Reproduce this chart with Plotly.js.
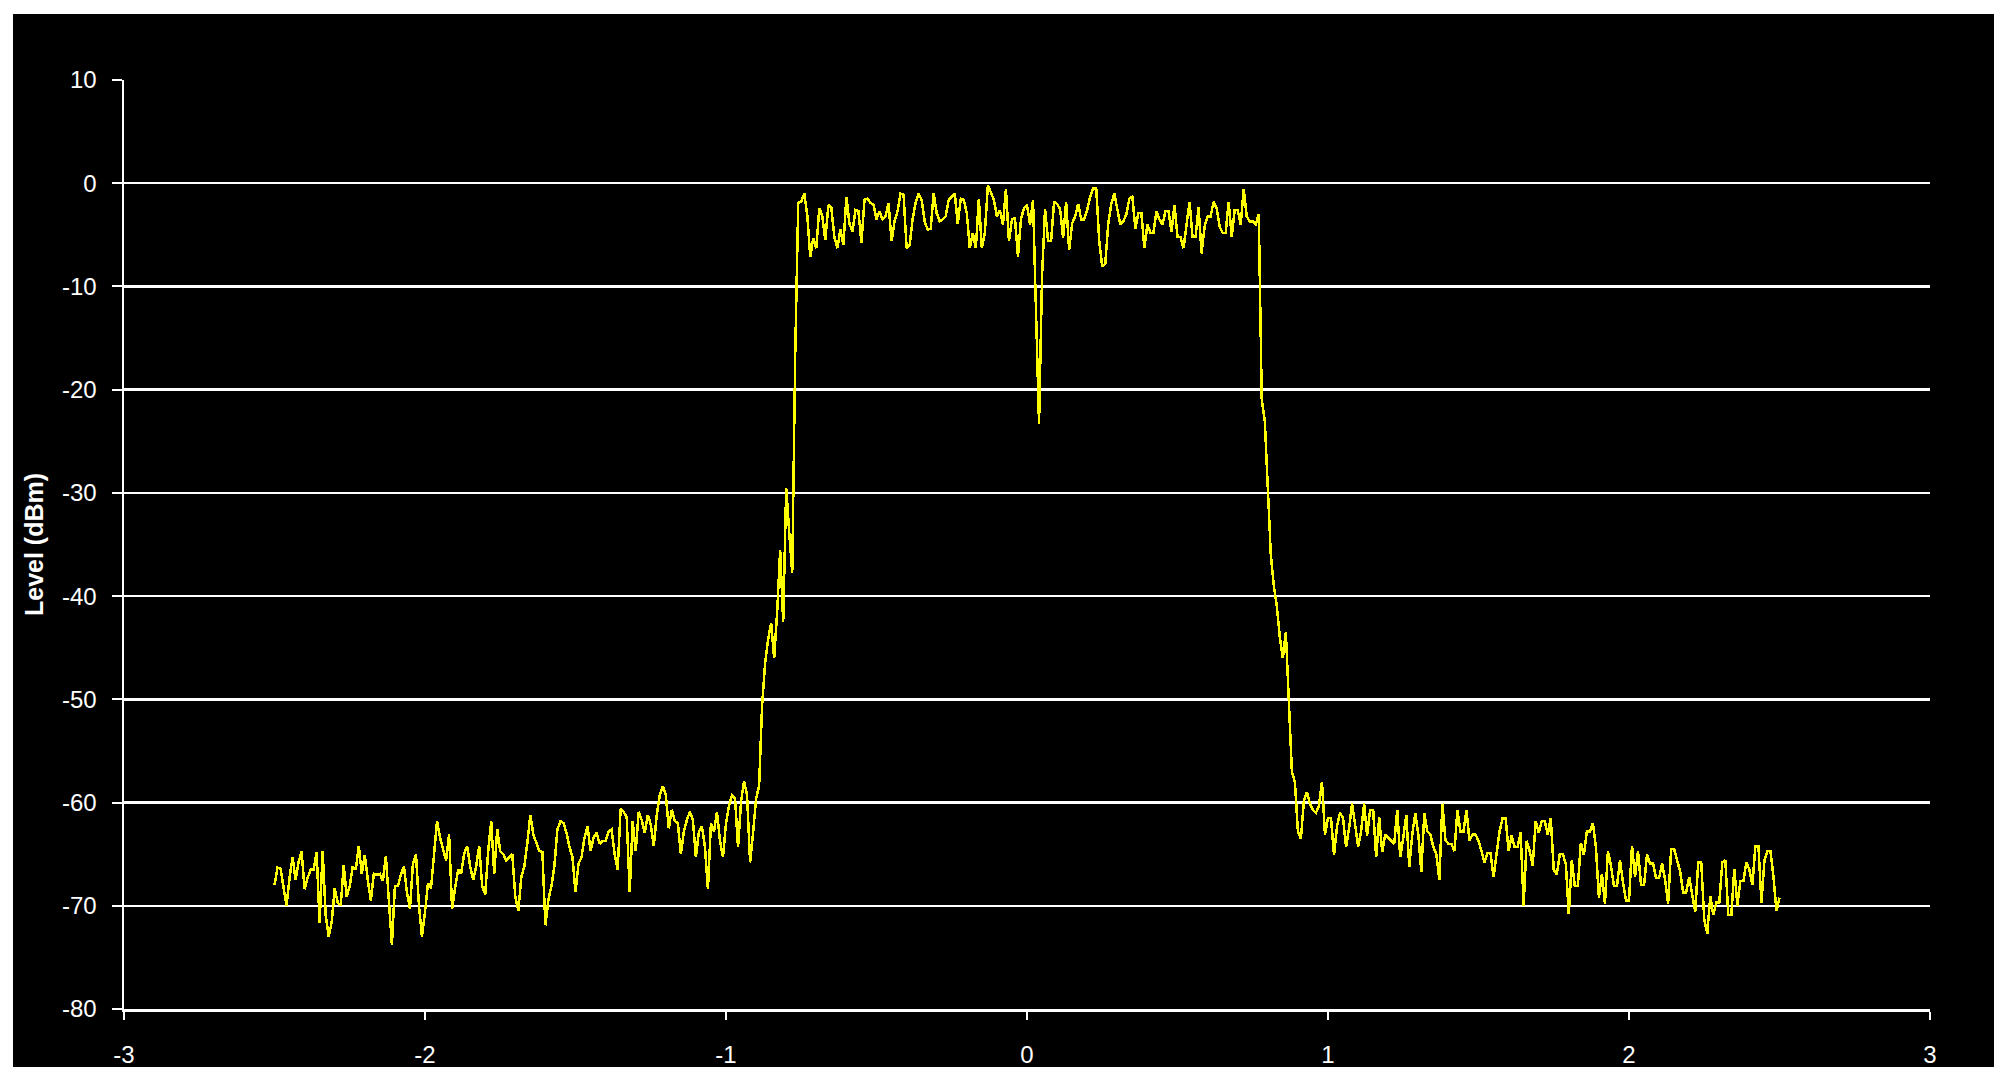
<!DOCTYPE html>
<html>
<head>
<meta charset="utf-8">
<script src="https://cdn.plot.ly/plotly-3.0.1.min.js"></script>
<style>
  html, body { margin: 0; padding: 0; background: #ffffff; width: 2015px; height: 1087px; overflow: hidden; }
  #chart { position: absolute; left: 13px; top: 14px; width: 1981px; height: 1053px; }
  #chart .scatterlayer path.js-line { shape-rendering: crispEdges; }
</style>
</head>
<body>
<div id="chart"></div>
<script>
// Frequency axis: first sample and spacing of the sweep (sample points every 0.01)
const freqStart = -2.5;
const freqStep = 0.01;

// Level readings (dBm) per sweep segment
// lower noise floor, -2.50 .. -0.89
const floorLeft = [
  -68, -66.3, -66.4, -68.1, -70, -67.3, -65.3, -67.5, -65.8, -64.7,
  -68.4, -67.3, -66.5, -66.5, -64.8, -71.7, -64.7, -70.9, -73, -71.6,
  -68.3, -69.7, -70, -66.1, -69.1, -68.1, -66.2, -66.5, -64.2, -66.9,
  -65.1, -67.5, -69.5, -66.9, -67, -66.9, -67.6, -65.2, -69.7, -73.8,
  -68.1, -68.1, -67, -66.2, -68.7, -70.3, -65.9, -65, -70, -73,
  -70.6, -67.8, -68.3, -65.3, -61.8, -63.4, -64.5, -65.6, -63.1, -70.3,
  -68.3, -66.5, -66.9, -65, -64.2, -66.2, -67.5, -66.2, -64.2, -68.1,
  -68.9, -64.7, -61.8, -66.9, -62.6, -64.7, -65, -65.6, -65.3, -65,
  -69.1, -70.5, -67.2, -66.2, -63.9, -61.2, -63.1, -63.9, -64.7, -64.8,
  -71.9, -69.4, -68.1, -66.1, -62.6, -61.8, -62, -62.9, -64.3, -65.3,
  -68.7, -65.9, -65.3, -63.4, -62.3, -64.7, -63.4, -62.9, -64, -63.7,
  -63.7, -62.8, -62.6, -65, -66.5, -60.6, -60.9, -61.4, -68.7, -61.8,
  -64.7, -60.9, -61.7, -62.9, -61.2, -62.1, -64.2, -61.2, -59.3, -58.4,
  -59.3, -62.5, -60.7, -61.8, -62, -65, -62.8, -61.7, -60.9, -61.7,
  -65.3, -62.8, -62.3, -64.3, -68.4, -62, -62.8, -60.9, -63.7, -65.3,
  -62, -60.3, -59.3, -59.6, -64.3, -59.9, -57.9, -59.3, -65.8, -62.9,
  -59.6, -58.4
];
// lower skirt, -0.88 .. -0.77
const riseLeft = [-50.5, -46.5, -44.2, -42.6, -46, -41.5, -35.5, -42.5, -29.5, -33.8, -37.8, -16.5];
// occupied band, -0.76 .. 0.77
const passband = [
  -1.9, -1.8, -1.0, -3.1, -7.1, -5.3, -6.3, -2.4, -3.2, -5.5,
  -2.1, -2.4, -5.2, -6.3, -4.5, -6.0, -1.3, -3.9, -4.7, -2.6,
  -2.7, -5.8, -1.6, -1.5, -1.9, -2.1, -3.5, -2.7, -3.5, -3.2,
  -1.9, -5.6, -3.7, -2.7, -1.0, -1.1, -6.3, -6.0, -3.5, -1.9,
  -1.0, -1.6, -3.7, -4.5, -4.4, -1.0, -2.9, -3.7, -3.5, -3.2,
  -1.6, -1.3, -1.0, -3.9, -1.5, -1.6, -2.9, -6.3, -4.8, -6.3,
  -1.5, -6.3, -4.8, -0.2, -1.0, -1.6, -3.2, -2.6, -4.0, -0.6,
  -5.6, -3.5, -3.4, -7.1, -3.5, -2.4, -2.1, -4.0, -1.6, -12.9,
  -23.3, -9.0, -2.5, -5.6, -5.6, -1.8, -2.0, -2.5, -5.3, -1.8,
  -6.5, -3.9, -3.2, -2.0, -3.5, -3.5, -2.6, -1.3, -0.5, -0.5,
  -5.6, -8.1, -7.8, -3.9, -2.0, -1.0, -2.6, -4.0, -3.7, -3.0,
  -1.5, -1.3, -4.4, -2.9, -2.9, -6.3, -4.0, -4.8, -4.8, -2.7,
  -3.5, -4.0, -2.7, -2.7, -4.7, -2.1, -5.2, -5.2, -6.3, -4.0,
  -1.8, -5.2, -5.2, -2.3, -6.8, -4.2, -3.2, -3.2, -1.8, -2.4,
  -4.2, -4.8, -4.8, -1.8, -5.2, -2.6, -2.6, -4.0, -0.6, -3.2,
  -3.7, -3.7, -4.0, -3.0
];
// upper skirt, 0.78 .. 0.88
const fallRight = [-21, -23, -29, -36, -39, -41, -44, -46, -43.5, -50, -57];
// upper noise floor, 0.89 .. 2.50
const floorRight = [
  -58, -62.8, -63.5, -59.8, -59, -60.1, -60.7, -61, -60.3, -58,
  -63.1, -61.5, -61.5, -65.1, -62.3, -61, -61.5, -64.3, -62.5, -60.1,
  -62.1, -64.3, -62.8, -60.1, -63.2, -60.7, -60.7, -65.3, -61.4, -64.8,
  -63.1, -63.4, -63.7, -64, -60.7, -65.3, -63.4, -61.2, -66.2, -63.1,
  -61, -63.1, -66.7, -61, -62.8, -63.1, -64.3, -65, -67.5, -60.1,
  -63.6, -64, -64, -64.7, -60.7, -62.8, -62.8, -60.7, -63.7, -63.1,
  -63.1, -63.7, -64.7, -65.8, -64.9, -64.9, -67.2, -64.7, -62.8, -61.5,
  -61.5, -64.7, -63.2, -64.3, -64.3, -62.9, -70, -63.7, -64.7, -66.1,
  -61.8, -62.9, -61.8, -61.8, -63.1, -61.5, -66.5, -67, -65, -65,
  -65.9, -70.8, -65.6, -68.1, -68.1, -63.9, -65.1, -62.8, -62.8, -62,
  -64.3, -69.2, -66.9, -69.8, -64.7, -66.1, -68.1, -68.1, -65.6, -67.7,
  -69.5, -69.5, -64.2, -67.2, -64.7, -68, -68, -65, -65.9, -65.9,
  -67.3, -67.3, -65.9, -67.5, -69.8, -64.5, -64.5, -65.6, -66.7, -68.7,
  -68.7, -67.2, -68.9, -70.6, -65.8, -65.8, -71.3, -72.7, -69.1, -70.9,
  -69.7, -69.7, -65.8, -65.6, -70.9, -70.9, -66.4, -70, -67.6, -67.6,
  -65.8, -66.5, -68, -64.2, -64.2, -69.7, -65.6, -64.7, -64.7, -67.2,
  -70.5, -69.2
];

// Tick labels
const xTickVals = [-3, -2, -1, 0, 1, 2, 3];
const xTickText = ['-3', '-2', '-1', '0', '1', '2', '3'];
const yTickVals = [10, 0, -10, -20, -30, -40, -50, -60, -70, -80];
const yTickText = ['10', '0', '-10', '-20', '-30', '-40', '-50', '-60', '-70', '-80'];
const yAxisTitle = 'Level (dBm)';

const levels = [].concat(floorLeft, riseLeft, passband, fallRight, floorRight);

const FONT = 'Liberation Sans, Arial, Helvetica, sans-serif';

const trace = {
  type: 'scatter',
  mode: 'lines',
  x0: freqStart,
  dx: freqStep,
  y: levels,
  line: { color: '#ffff00', width: 2.5 },
  hoverinfo: 'skip'
};

const layout = {
  width: 1981,
  height: 1053,
  paper_bgcolor: '#000000',
  plot_bgcolor: '#000000',
  margin: { l: 111, r: 64, t: 66, b: 58, pad: 0 },
  showlegend: false,
  font: { family: FONT, color: '#ffffff', size: 24 },
  xaxis: {
    range: [-3, 3],
    tickvals: xTickVals,
    ticktext: xTickText,
    showgrid: false,
    zeroline: false,
    showline: true,
    linecolor: '#ffffff',
    linewidth: 3,
    ticks: 'outside',
    ticklen: 8,
    tickwidth: 2,
    tickcolor: '#ffffff',
    ticklabelstandoff: 14,
    tickfont: { family: FONT, color: '#ffffff', size: 24 }
  },
  yaxis: {
    range: [-80, 10],
    tickvals: yTickVals,
    ticktext: yTickText,
    showgrid: true,
    gridcolor: '#ffffff',
    gridwidth: 2.5,
    zeroline: false,
    showline: true,
    linecolor: '#ffffff',
    linewidth: 2.5,
    ticks: 'outside',
    ticklen: 10,
    tickwidth: 2,
    tickcolor: '#ffffff',
    ticklabelstandoff: 10,
    tickfont: { family: FONT, color: '#ffffff', size: 24 },
    title: {
      text: yAxisTitle,
      font: { family: FONT, color: '#ffffff', size: 25, weight: 'bold' },
      standoff: 12
    }
  }
};

Plotly.newPlot('chart', [trace], layout, { displayModeBar: false, staticPlot: true });
</script>
</body>
</html>
